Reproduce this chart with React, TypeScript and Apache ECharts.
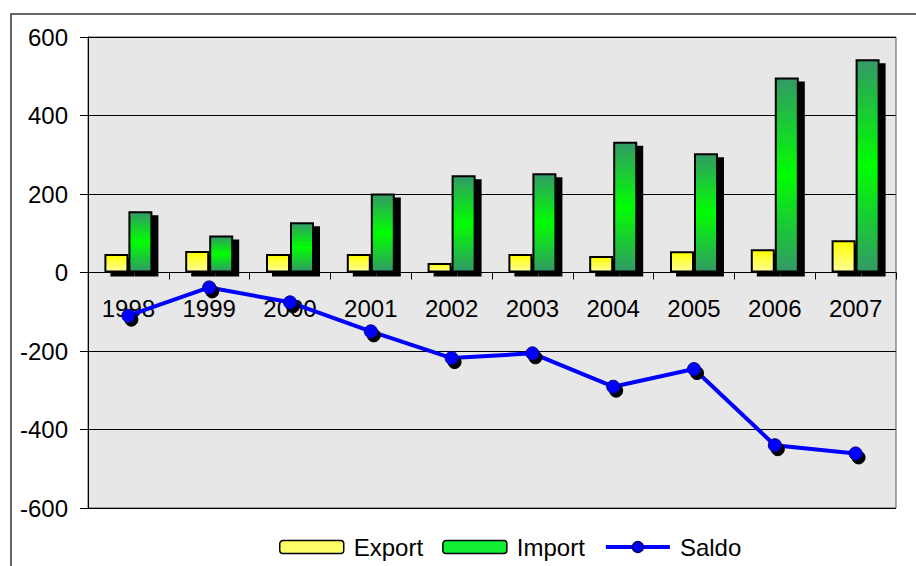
import React, { useEffect, useRef } from "react";
import * as echarts from "echarts";

const years = ["1998", "1999", "2000", "2001", "2002", "2003", "2004", "2005", "2006", "2007"];
const exportValues = [47, 55, 47, 47, 24, 47, 42, 54, 59, 82];
const importValues = [156, 94, 128, 201, 248, 253, 333, 304, 497, 543];
const saldoValues = [-110, -38, -76, -150, -218, -206, -291, -246, -440, -461];
const yTicks = { min: -600, max: 600, interval: 200 };

const FONT = "'Liberation Sans', Arial, sans-serif";
const GRID_TOP = 37;
const GRID_BOTTOM = 58;
const CHART_H = 566;

export default function App() {
  const ref = useRef<HTMLDivElement>(null);
  useEffect(() => {
    if (!ref.current) return;
    const chart = echarts.init(ref.current, null, { renderer: "svg" });
    const exportGrad = new echarts.graphic.LinearGradient(0, 0, 0, 1, [
      { offset: 0, color: "#ffff00" },
      { offset: 1, color: "#ffff99" },
    ]);
    const importGrad = new echarts.graphic.LinearGradient(0, 0, 0, 1, [
      { offset: 0, color: "#339966" },
      { offset: 0.5, color: "#00ff00" },
      { offset: 1, color: "#339966" },
    ]);
    // place the category axis on the value 0 line
    const plotH = CHART_H - GRID_TOP - GRID_BOTTOM;
    const zeroFromBottom = (plotH * (0 - yTicks.min)) / (yTicks.max - yTicks.min);
    chart.setOption({
      animation: false,
      backgroundColor: "#ffffff",
      textStyle: { fontFamily: FONT },
      graphic: [
        {
          type: "rect",
          shape: { x: 11, y: 14, width: 1200, height: 1200 },
          style: { fill: "none", stroke: "#333", lineWidth: 1.5 },
          silent: true,
          z: -10,
        },
      ],
      grid: {
        left: 88,
        right: 20,
        top: GRID_TOP,
        bottom: GRID_BOTTOM,
        show: true,
        backgroundColor: "#e7e7e7",
        borderColor: "#555",
        borderWidth: 1,
      },
      legend: {
        left: 274,
        top: 530,
        itemWidth: 64,
        itemHeight: 13,
        itemGap: 19,
        textStyle: { fontSize: 24, color: "#000", fontFamily: FONT, padding: [0, 0, 0, 5] },
        data: [
          { name: "Export", itemStyle: { color: "#ffff66", borderColor: "#000", borderWidth: 1.5 } },
          { name: "Import", itemStyle: { color: "#11ee33", borderColor: "#000", borderWidth: 1.5 } },
          { name: "Saldo", lineStyle: { width: 4, color: "#0000ff" } },
        ],
      },
      xAxis: {
        type: "category",
        data: years,
        offset: -zeroFromBottom,
        axisLine: { onZero: false, lineStyle: { color: "#000", width: 1 } },
        axisTick: { show: true, length: 7, lineStyle: { color: "#000" } },
        axisLabel: { fontSize: 24, color: "#000", margin: 24, fontFamily: FONT },
        z: 5,
      },
      yAxis: {
        type: "value",
        min: yTicks.min,
        max: yTicks.max,
        interval: yTicks.interval,
        axisLine: { show: true, lineStyle: { color: "#000", width: 1 } },
        axisTick: { show: true, length: 8, lineStyle: { color: "#000" } },
        axisLabel: { fontSize: 24, color: "#000", margin: 20, fontFamily: FONT },
        splitLine: { show: true, lineStyle: { color: "#000", width: 1 } },
      },
      series: [
        {
          name: "Export",
          type: "bar",
          data: exportValues,
          barWidth: 24,
          barGap: "0%",
          itemStyle: {
            color: exportGrad,
            borderColor: "#000",
            borderWidth: 2,
            shadowColor: "#000",
            shadowBlur: 0,
            shadowOffsetX: 6,
            shadowOffsetY: 4,
          },
          z: 3,
        },
        {
          name: "Import",
          type: "bar",
          data: importValues,
          barWidth: 24,
          barGap: "0%",
          itemStyle: {
            color: importGrad,
            borderColor: "#000",
            borderWidth: 2,
            shadowColor: "#000",
            shadowBlur: 0,
            shadowOffsetX: 6,
            shadowOffsetY: 4,
          },
          z: 3,
        },
        {
          name: "Saldo",
          type: "line",
          data: saldoValues,
          symbol: "circle",
          symbolSize: 13,
          lineStyle: { color: "#0000ff", width: 4 },
          itemStyle: {
            color: "#0000ff",
            borderColor: "#000080",
            borderWidth: 1,
            shadowColor: "#000",
            shadowBlur: 0,
            shadowOffsetX: 3,
            shadowOffsetY: 4,
          },
          z: 10,
        },
      ],
    });
    return () => chart.dispose();
  }, []);
  return <div ref={ref} style={{ width: 916, height: 566, position: "absolute", left: 0, top: 0 }} />;
}
